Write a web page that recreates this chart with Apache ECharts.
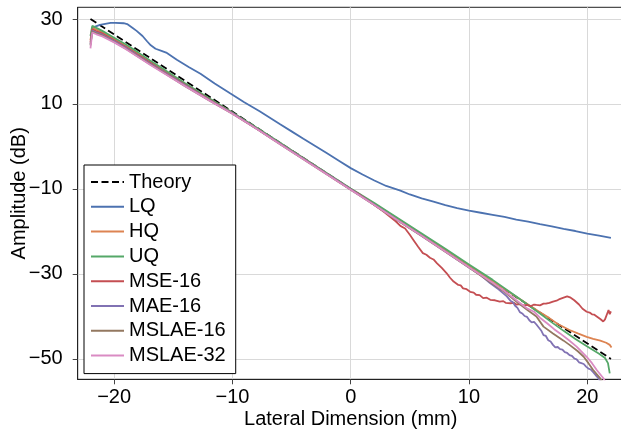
<!DOCTYPE html>
<html>
<head>
<meta charset="utf-8">
<script src="https://cdn.jsdelivr.net/npm/echarts@6/dist/echarts.min.js"></script>
<style>html,body{margin:0;padding:0;background:#fff}#c{width:621px;height:435px}</style>
</head>
<body>
<div id="c"></div>
<script>
const seriesNames = ['Theory','LQ','HQ','UQ','MSE-16','MAE-16','MSLAE-16','MSLAE-32'];
const seriesColors = ['#000000','#4c72b0','#dd8452','#55a868','#c44e52','#8172b3','#937860','#da8bc3'];
const xTicks = [-20,-10,0,10,20];
const yTicks = [30,10,-10,-30,-50];

const theoryPts = [[-22,30],[0,-10],[22,-50]];
const lqPts = [[-21.9,27.8],[-21.6,28.2],[-21.2,28.6],[-20.3,29.1],[-19.9,29.1],[-19.2,29.0],[-18.9,28.8],[-18.4,27.8],[-18.1,27.2],[-17.6,26.0],[-17.2,24.7],[-16.9,23.8],[-16.5,23.0],[-16.0,22.5],[-15.6,22.1],[-14.7,20.4],[-13.7,18.7],[-12.7,17.1],[-11.5,14.8],[-10.2,12.5],[-9.0,10.4],[-7.7,8.3],[-6,5.3],[-5,3.55],[-4,1.8],[-3,0.1],[-2,-1.6],[-1,-3.35],[0,-5.1],[1,-6.6],[2,-8.0],[3,-9.3],[4.2,-10.4],[5,-11.3],[6,-12.2],[7,-13.0],[8,-13.8],[9,-14.5],[10,-15.1],[11,-15.6],[12,-16.1],[13,-16.6],[14,-17.2],[15,-17.7],[16,-18.3],[17,-18.8],[18,-19.4],[19,-19.9],[20,-20.5],[21,-21.0],[22,-21.5]];
const hqPts = [[-22,25.0],[-21.85,27.9],[-21.5,27.5],[-21,26.9],[-20,25.3],[-19,23.6],[-18,21.8],[-17,19.9],[-16,18.2],[-14,14.7],[-12,11.3],[-10,7.9],[-8,4.4],[-6,0.8],[-4,-2.8],[-2,-6.4],[0,-10.0],[2,-13.5],[4,-17.1],[6,-20.7],[8,-24.3],[10,-28.0],[12,-31.7],[14,-35.4],[15,-37.2],[16,-39.0],[16.8,-40.4],[17.5,-41.8],[18.5,-43.2],[19.2,-44.0],[19.95,-44.8],[20.5,-45.3],[21.1,-45.7],[21.6,-46.2],[21.9,-46.7],[22.05,-47.3]];
const uqPts = [[-22,26.0],[-21.85,28.4],[-21.5,27.9],[-21,27.2],[-20,25.6],[-19,24.0],[-18,22.2],[-17,20.3],[-16,18.5],[-14,14.9],[-12,11.4],[-10,8.0],[-8,4.5],[-6,0.9],[-4,-2.7],[-2,-6.3],[0,-9.9],[2,-13.3],[4,-16.9],[6,-20.5],[8,-24.1],[10,-27.8],[12,-31.4],[14,-35.3],[15,-37.3],[16,-39.3],[17,-41.4],[18,-43.4],[19,-45.3],[20,-47.1],[21,-48.8],[21.5,-49.8],[21.75,-51.0],[21.9,-53.4]];
const msePts = [[-22,24.5],[-21.85,27.6],[-21.5,27.1],[-21,26.6],[-20,25.0],[-19,23.4],[-18,21.6],[-17,19.8],[-16,18.0],[-14,14.5],[-12,11.1],[-10,7.8],[-8,4.3],[-6,0.7],[-4,-2.9],[-2,-6.5],[0,-10.1],[0.8,-11.4],[1.5,-12.8],[2.2,-14.2],[2.8,-15.4],[3.3,-16.5],[3.8,-17.6],[4.2,-18.7],[4.6,-19.3],[5.0,-20.8],[5.3,-22.0],[5.7,-23.6],[6.1,-25.1],[6.4,-25.5],[6.7,-26.2],[7.0,-26.6],[7.3,-27.5],[7.7,-28.6],[8.1,-29.8],[8.4,-30.9],[8.7,-31.8],[9.1,-32.6],[9.3,-32.7],[9.5,-33.4],[9.8,-33.6],[10.1,-34.2],[10.4,-34.4],[10.6,-34.9],[10.9,-35.0],[11.2,-35.7],[11.5,-35.6],[11.8,-36.1],[12.2,-36.2],[12.6,-36.5],[12.9,-36.4],[13.1,-36.8],[13.5,-36.9],[13.8,-36.8],[14.0,-37.2],[14.3,-37.1],[14.6,-37.4],[14.9,-37.3],[15.2,-37.6],[15.5,-37.2],[15.7,-37.3],[16.0,-37.4],[16.3,-37.0],[16.5,-37.0],[16.8,-36.8],[17.1,-36.5],[17.4,-36.3],[17.6,-36.0],[18.0,-35.6],[18.3,-35.3],[18.6,-35.6],[18.9,-36.2],[19.3,-37.2],[19.6,-38.2],[19.95,-38.9],[20.2,-39.1],[20.4,-39.5],[20.6,-39.6],[20.8,-40.0],[21.1,-40.6],[21.35,-41.2],[21.5,-40.7],[21.65,-41.0],[21.8,-38.5],[21.9,-39.5],[22.0,-38.8]];
const maePts = [[-22,24.0],[-21.85,27.2],[-21.5,26.8],[-21,26.3],[-20,24.8],[-19,23.2],[-18,21.4],[-17,19.6],[-16,17.9],[-14,14.4],[-12,11.0],[-10,7.8],[-8,4.3],[-6,0.7],[-4,-2.9],[-2,-6.5],[0,-10.1],[2,-13.7],[4,-17.4],[6,-21.0],[8,-24.7],[10,-28.5],[11,-30.3],[11.8,-32.2],[12.5,-33.6],[13.2,-35.3],[13.5,-36.3],[13.7,-36.6],[13.9,-37.5],[14.1,-38.0],[14.3,-39.0],[14.5,-39.3],[14.7,-39.9],[14.9,-40.1],[15.1,-40.9],[15.3,-41.4],[15.5,-41.3],[15.7,-41.9],[15.9,-42.6],[16.1,-43.3],[16.3,-44.4],[16.5,-44.6],[16.7,-45.6],[16.9,-45.9],[17.1,-46.7],[17.3,-47.3],[17.5,-47.2],[17.7,-47.7],[17.9,-47.8],[18.1,-48.4],[18.3,-48.6],[18.5,-49.1],[18.7,-49.3],[18.9,-49.9],[19.1,-50.1],[19.3,-50.8],[19.5,-51.0],[19.7,-51.2],[19.9,-51.8],[20.1,-52.3],[20.3,-52.5],[20.5,-53.1],[20.7,-53.8],[20.9,-54.4],[21.1,-55.3]];
const mslae16Pts = [[-22,23.8],[-21.85,27.0],[-21.5,26.6],[-21,26.1],[-20,24.6],[-19,23.0],[-18,21.2],[-17,19.4],[-16,17.7],[-14,14.2],[-12,10.9],[-10,7.7],[-8,4.2],[-6,0.6],[-4,-3.0],[-2,-6.6],[0,-10.2],[2,-13.8],[4,-17.5],[6,-21.1],[8,-24.8],[10,-28.5],[12,-32.3],[13,-34.2],[14,-36.5],[15,-38.6],[15.7,-40.0],[16.3,-42.4],[17.1,-44.0],[18.0,-45.7],[18.5,-46.7],[19.2,-48.2],[19.7,-49.5],[20.1,-51.0],[20.5,-52.6],[21.1,-54.6],[21.3,-55.5]];
const mslae32Pts = [[-22,23.1],[-21.85,26.8],[-21.5,26.4],[-21,25.9],[-20,24.5],[-19,22.9],[-18,21.1],[-17,19.3],[-16,17.6],[-14,14.2],[-12,10.9],[-10,7.7],[-8,4.2],[-6,0.6],[-4,-3.0],[-2,-6.6],[0,-10.2],[2,-13.8],[4,-17.4],[6,-21.0],[8,-24.7],[10,-28.4],[12,-32.1],[13,-34.0],[14,-36.2],[14.9,-38.1],[15.5,-38.9],[16.0,-40.3],[16.6,-41.6],[17.2,-43.0],[17.7,-44.0],[18.4,-45.5],[19.1,-47.1],[19.95,-49.5],[20.4,-51.0],[20.8,-52.6],[21.35,-54.5],[21.5,-55.3]];

const allPts = [theoryPts, lqPts, hqPts, uqPts, msePts, maePts, mslae16Pts, mslae32Pts];
const FONT = 'Liberation Sans';
const minus = v => String(v).replace('-', '\u2212');

const chart = echarts.init(document.getElementById('c'), null, {renderer: 'canvas'});
chart.setOption({
  animation: false,
  backgroundColor: '#fff',
  grid: {left: 77.7, top: 7.3, width: 546, height: 372, outerBoundsMode: 'none', containLabel: false,
         show: true, borderColor: '#222', borderWidth: 1, backgroundColor: 'transparent'},
  xAxis: {
    type: 'value', min: -23.08, max: 23.08,
    name: 'Lateral Dimension (mm)', nameLocation: 'middle', nameGap: 30, nameMoveOverlap: false,
    nameTextStyle: {fontFamily: FONT, fontSize: 20, color: '#000'},
    axisLine: {show: true, onZero: false, lineStyle: {color: '#222', width: 1}},
    axisTick: {show: true, length: 5, customValues: xTicks, lineStyle: {color: '#444'}},
    axisLabel: {customValues: xTicks, margin: 8, fontFamily: FONT, fontSize: 20, color: '#000', formatter: minus},
    splitLine: {show: true, lineStyle: {color: '#d9d9d9', width: 1}}
  },
  yAxis: {
    type: 'value', min: -54.8, max: 32.75,
    name: 'Amplitude (dB)', nameLocation: 'middle', nameGap: 48, nameMoveOverlap: false,
    nameTextStyle: {fontFamily: FONT, fontSize: 20, color: '#000'},
    axisLine: {show: true, onZero: false, lineStyle: {color: '#222', width: 1}},
    axisTick: {show: true, length: 5, customValues: yTicks, lineStyle: {color: '#444'}},
    axisLabel: {customValues: yTicks, margin: 15, fontFamily: FONT, fontSize: 20, color: '#000', formatter: minus},
    splitLine: {show: true, lineStyle: {color: '#d9d9d9', width: 1}}
  },
  legend: {
    left: 84, top: 165, orient: 'vertical',
    data: seriesNames,
    itemWidth: 33, itemHeight: 14, itemGap: 4.8,
    padding: [7, 10, 8, 6],
    borderColor: '#000', borderWidth: 1, borderRadius: 0,
    backgroundColor: '#fff',
    itemStyle: {opacity: 0},
    textStyle: {fontFamily: FONT, fontSize: 20, color: '#000', lineHeight: 20}
  },
  series: seriesNames.map((n, i) => ({
    name: n, type: 'line', data: allPts[i], showSymbol: false, symbol: 'none',
    clip: true, z: 2 + i,
    color: seriesColors[i],
    lineStyle: {color: seriesColors[i], width: 1.8, type: i === 0 ? [7, 3.5] : 'solid'}
  }))
});
</script>
</body>
</html>
